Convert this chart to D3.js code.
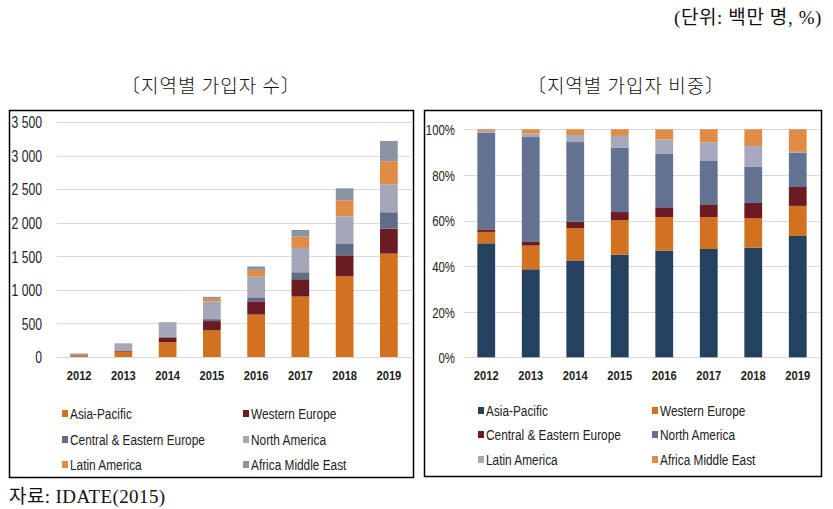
<!DOCTYPE html>
<html><head><meta charset="utf-8">
<script src="https://cdn.jsdelivr.net/npm/d3@7"></script>
<style>
body{margin:0;background:#fff;}
svg{display:block;}
.narrow{font-family:"Liberation Sans Narrow","Arial Narrow","Liberation Sans",Arial,sans-serif;}
</style></head>
<body>
<svg id="c" width="833" height="509"></svg>
<script>
const years = ["2012","2013","2014","2015","2016","2017","2018","2019"];
const regions = ["Asia-Pacific","Western Europe","Central & Eastern Europe","North America","Latin America","Africa Middle East"];

// Left: subscribers (million)
const asiaPacific   = [26, 80, 221, 396, 632, 900, 1200, 1540];
const westernEurope = [3, 14, 70, 139, 197, 258, 314, 372];
const centralEastEu = [1, 4, 12, 29, 60, 104, 179, 244];
const northAmerica  = [23, 100, 205, 263, 313, 363, 402, 417];
const latinAmerica  = [1, 4, 6, 39, 95, 168, 239, 342];
const africaMidEast = [1, 4, 6, 30, 52, 100, 178, 303];

// Right: share (%)
const shareAsiaPacific   = [50.0, 38.6, 42.5, 45.0, 46.8, 47.5, 48.1, 53.2];
const shareWesternEurope = [5.0, 10.4, 14.2, 15.2, 14.7, 14.0, 13.0, 13.2];
const shareCentralEastEu = [1.1, 1.6, 2.7, 3.5, 4.3, 5.6, 6.6, 8.3];
const shareNorthAmerica  = [42.4, 46.0, 35.0, 28.3, 23.4, 19.0, 15.8, 15.1];
const shareLatinAmerica  = [0.8, 1.6, 3.1, 5.1, 6.4, 8.2, 9.2, 0.3];
const shareAfricaMidEast = [0.7, 1.8, 2.5, 2.9, 4.4, 5.7, 7.3, 9.9];

const leftTicks = [0, 500, 1000, 1500, 2000, 2500, 3000, 3500];
const rightTicks = [0, 20, 40, 60, 80, 100];

const leftColors  = ["#d2711f", "#6b1c22", "#5f6d89", "#a4a7b8", "#e08c47", "#8a94a3"];
const rightColors = ["#24415f", "#d2711f", "#6b1c22", "#637290", "#a6a9bb", "#e08c47"];

const svg = d3.select("#c");

// header texts
svg.append("text").attr("x", 822).attr("y", 24).attr("text-anchor", "end")
  .attr("font-family", "'Liberation Serif','Noto Sans CJK KR',serif").attr("font-size", 19)
  .attr("letter-spacing", 0.6).attr("fill", "#111")
  .text("(단위: 백만 명, %)");
svg.append("text").attr("x", 211).attr("y", 93).attr("text-anchor", "middle")
  .attr("font-family", "'Noto Sans CJK KR',sans-serif").attr("font-weight", 300).attr("font-size", 19)
  .attr("letter-spacing", 1).attr("fill", "#111")
  .text("〔지역별 가입자 수〕");
svg.append("text").attr("x", 626).attr("y", 93).attr("text-anchor", "middle")
  .attr("font-family", "'Noto Sans CJK KR',sans-serif").attr("font-weight", 300).attr("font-size", 19)
  .attr("letter-spacing", 1).attr("fill", "#111")
  .text("〔지역별 가입자 비중〕");
svg.append("text").attr("x", 9).attr("y", 503)
  .attr("font-family", "'Liberation Serif','Noto Sans CJK KR',serif").attr("font-size", 19)
  .attr("letter-spacing", 0.4).attr("fill", "#111")
  .text("자료: IDATE(2015)");

function drawChart(opt) {
  const g = svg.append("g");
  g.append("rect").attr("x", opt.frame[0]).attr("y", opt.frame[1]).attr("width", opt.frame[2]).attr("height", opt.frame[3])
    .attr("fill", "#fff").attr("stroke", "#000").attr("stroke-width", 1.5);
  const x = d3.scaleBand().domain(years).range(opt.xr).paddingInner(0.6).paddingOuter(0.3);
  const y = d3.scaleLinear().domain(opt.ydom).range(opt.yr);
  // grid
  g.append("g").selectAll("line").data(opt.ticks).join("line")
    .attr("x1", opt.xr[0]).attr("x2", opt.xr[1])
    .attr("y1", d => Math.round(y(d)) + 0.5).attr("y2", d => Math.round(y(d)) + 0.5)
    .attr("stroke", "#d9d9d9").attr("stroke-width", 1);
  // y axis labels
  const yAxis = d3.axisLeft(y).tickValues(opt.ticks).tickSize(0).tickPadding(0).tickFormat(opt.fmt);
  const ya = g.append("g").attr("transform", `translate(${opt.ylabX},0)`).call(yAxis);
  ya.select(".domain").remove();
  ya.selectAll("text").attr("class", "narrow").attr("font-size", opt.yFont).attr("fill", "#222")
    .attr("dy", "0.36em").attr("transform", "scale(0.76,1)");
  // x axis labels
  const xAxis = d3.axisBottom(x).tickSize(0).tickPadding(0);
  const xa = g.append("g").attr("transform", `translate(0,${opt.xlabY})`).call(xAxis);
  xa.select(".domain").remove();
  xa.selectAll("text").attr("class", "narrow").attr("font-size", 13).attr("font-weight", "bold").attr("fill", "#222")
    .attr("transform", "scale(0.86,1)");
  // stacked bars
  const rows = years.map((yr, i) => { const o = {year: yr}; regions.forEach((r, k) => o[r] = opt.series[k][i]); return o; });
  const stacked = d3.stack().keys(regions)(rows);
  g.append("g").selectAll("g").data(stacked).join("g").attr("fill", (d, k) => opt.colors[k])
    .selectAll("rect").data(d => d).join("rect")
    .attr("x", d => x(d.data.year)).attr("width", x.bandwidth())
    .attr("y", d => y(d[1])).attr("height", d => Math.max(0, y(d[0]) - y(d[1])));
  // legend
  const lg = g.append("g");
  regions.forEach((r, k) => {
    const cx = opt.legX[k % 2], cy = opt.legY[Math.floor(k / 2)];
    lg.append("rect").attr("x", cx).attr("y", cy - 4).attr("width", 6).attr("height", 7).attr("fill", opt.colors[k]);
    lg.append("g").attr("transform", `translate(${cx + 8},${cy}) scale(0.79,1)`)
      .append("text").attr("class", "narrow").attr("dy", "0.36em")
      .attr("font-size", 15).attr("fill", "#222").text(r);
  });
}

drawChart({
  frame: [9.5, 110.5, 404, 367],
  xr: [57, 411], yr: [357, 122], ydom: [0, 3500],
  ticks: leftTicks, fmt: d => d3.format(",")(d).replace(",", " "),
  ylabX: 42, xlabY: 371, yFont: 16,
  series: [asiaPacific, westernEurope, centralEastEu, northAmerica, latinAmerica, africaMidEast],
  colors: leftColors,
  legX: [62, 243], legY: [414, 440, 465]
});
drawChart({
  frame: [424.5, 110.5, 397, 366],
  xr: [464, 820], yr: [357.3, 129.3], ydom: [0, 100],
  ticks: rightTicks, fmt: d => d + "%",
  ylabX: 455, xlabY: 371, yFont: 15,
  series: [shareAsiaPacific, shareWesternEurope, shareCentralEastEu, shareNorthAmerica, shareLatinAmerica, shareAfricaMidEast],
  colors: rightColors,
  legX: [478, 652], legY: [411, 435, 460]
});
</script>
</body></html>
